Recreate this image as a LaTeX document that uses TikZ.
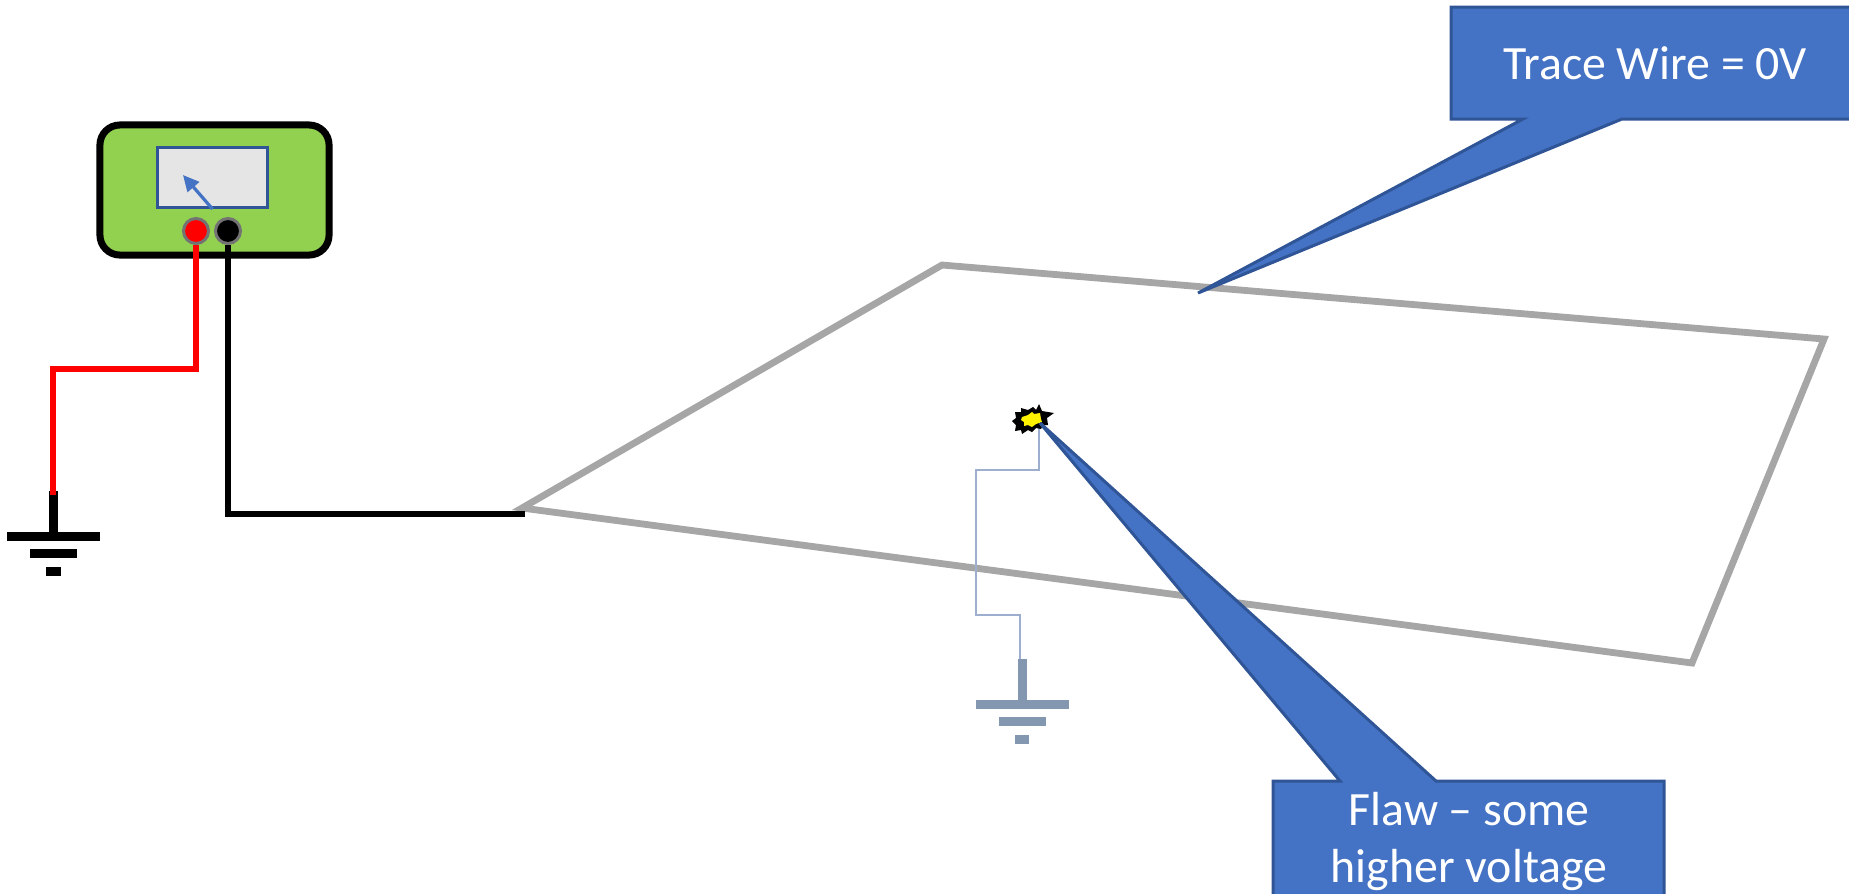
\documentclass[tikz,border=0pt]{standalone}
\usepackage{xcolor}
\usepackage{fontspec}
\setmainfont{Carlito}
\usetikzlibrary{arrows.meta}
\definecolor{calloutblue}{HTML}{4472C4}
\definecolor{calloutedge}{HTML}{2F5597}
\definecolor{metergreen}{HTML}{92D050}
\definecolor{tracegray}{HTML}{A6A6A6}
\definecolor{groundgray}{HTML}{8497B0}
\definecolor{thinwire}{HTML}{9DAECF}
\tikzset{
  jack/.style={draw=black!55, line width=0.03cm, circle, minimum size=0.25cm, inner sep=0pt},
  wire/.style={line width=0.065cm, line join=miter},
  callout/.style={fill=calloutblue, draw=calloutedge, line width=0.03cm, line join=miter},
  calloutlabel/.style={text=white, align=center, font=\fontsize{13.6}{16.2}\selectfont, inner sep=0pt},
  earth/.pic={
    \fill (-4.5,-41) rectangle (4.5,0);
    \fill (-46.5,-0.5) rectangle (46.5,8.5);
    \fill (-23.5,16.5) rectangle (23.5,25.5);
    \fill (-7.5,34.5) rectangle (7,43.5);
    \coordinate (-top) at (0,-41);
  }
}
\begin{document}
\begin{tikzpicture}[x=0.01cm, y=-0.01cm]
          \useasboundingbox (0,0) rectangle (1849,893);
          \clip (0,0) rectangle (1849,893);
          \draw[tracegray, line width=0.068cm, line join=miter] (942,265) -- (1824,339) -- (1692,663) -- (522,508) -- cycle;
          \node[draw=black, fill=metergreen, line width=0.07cm, rounded corners=0.2cm, minimum width=2.29cm, minimum height=1.30cm] (meter) at (214.5,190) {};
          \node[draw=calloutedge, fill=black!10, line width=0.03cm, minimum width=1.10cm, minimum height=0.60cm] (dial) at (212.5,177.5) {};
          \coordinate (needletip) at (183,175);
          \draw[calloutblue, line width=0.032cm, -{Triangle[length=0.16cm, width=0.15cm]}] (dial.south) -- (needletip);
          \node[jack, fill=red] (redjack) at (196,231) {};
          \node[jack, fill=black] (blackjack) at (228,231) {};
          \pic[black] (gnda) at (53.5,532) {earth};
          \pic[groundgray] (gndb) at (1022,700) {earth};
          \coordinate (redbend) at (53,369);
          \coordinate (redend) at (53,495);
          \coordinate (blackend) at (525,514);
          \draw[wire, red] (redjack.south) |- (redbend) -- (redend);
          \draw[wire, black] (blackjack.south) |- (blackend);
          \coordinate (sparkfoot) at (1039,425);
          \coordinate (bendone) at (976,470);
          \coordinate (bendtwo) at (1020,615);
          \draw[thinwire, line width=0.017cm] (sparkfoot) |- (bendone) |- (bendtwo) -- (bendtwo |- gndb-top);
          \fill[black] (1039,404) -- (1042,411) -- (1054,413) -- (1047,418) -- (1048,425) -- (1043,425) -- (1041,429) -- (1036,428) -- (1032,432) -- (1028,430) -- (1022,434) -- (1021,430) -- (1015,431) -- (1016,425) -- (1012,421) -- (1016,418) -- (1015,412) -- (1021,412) -- (1021,408) -- (1028,410) -- (1033,407) -- (1036,410) -- cycle;
          \fill[yellow] (1022,417) -- (1028,415) -- (1032,412) -- (1034,414) -- (1040,413) -- (1041,419) -- (1042,422) -- (1036,424) -- (1032,427) -- (1028,425) -- (1024,426) -- (1024,422) -- (1021,420) -- cycle;
          \draw[callout] (1451,7) -- (1900,7) -- (1900,119) -- (1622,119) -- (1198,293) -- (1523,119) -- (1451,119) -- cycle;
          \draw[callout] (1273,781) -- (1340,781) -- (1040,423) -- (1436,781) -- (1664,781) -- (1664,950) -- (1273,950) -- cycle;
          \node[calloutlabel, anchor=base] (tracelabel) at (1655,79) {Trace Wire = 0V};
          \node[calloutlabel, anchor=base] (flawlabel) at (1469,825) {Flaw -- some};
          \node[calloutlabel, anchor=base] (voltlabel) at (1469,882) {higher voltage};
        \end{tikzpicture}
\end{document}
